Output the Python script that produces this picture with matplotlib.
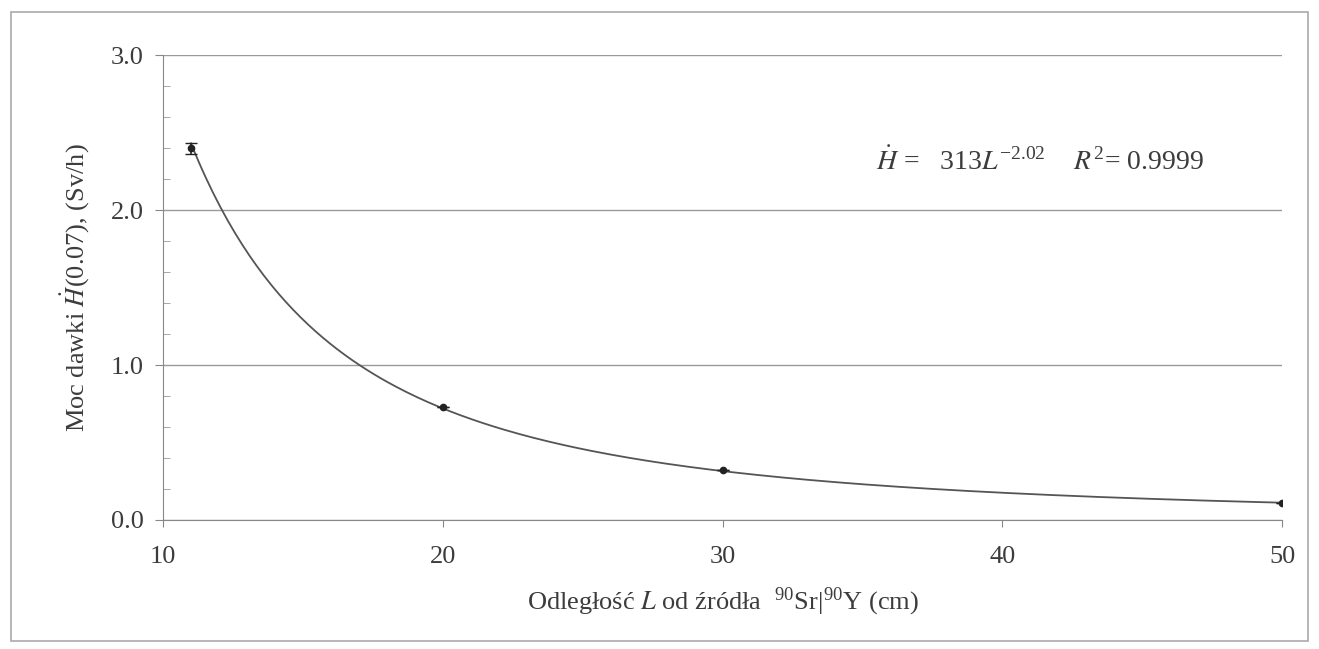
import matplotlib
matplotlib.use("Agg")
import matplotlib.pyplot as plt
import numpy as np
from matplotlib.ticker import MultipleLocator
from matplotlib.patches import Rectangle

# Data
distance_cm = np.array([11, 20, 30, 50])
dose_rate = np.array([2.40, 0.73, 0.32, 0.11])
dose_err = np.array([0.035, 0.0, 0.0, 0.0])
x_ticks = [10, 20, 30, 40, 50]
y_ticks = [0.0, 1.0, 2.0, 3.0]
equation_text = r"$\dot{H}$ =   313$L^{\mathregular{-2.02}}$    $R^{\mathregular{2}}$= 0.9999"

plt.rcParams['font.family'] = ['Liberation Serif', 'DejaVu Serif']
plt.rcParams['mathtext.fontset'] = 'stix'
text_col = '#3c3c3c'

fig = plt.figure(figsize=(13.19, 6.49), dpi=100)
ax = fig.add_axes([0.1236, 0.1988, 0.8484, 0.7162])

# power-law trend line fitted to the measured points
b, log_a = np.polyfit(np.log(distance_cm), np.log(dose_rate), 1)
xs = np.linspace(distance_cm.min(), distance_cm.max(), 300)
ax.plot(xs, np.exp(log_a) * xs ** b, color='#555555', lw=1.3, zorder=3)

ax.errorbar(distance_cm, dose_rate, yerr=dose_err, fmt='o', color='#222222',
            ms=4.5, capsize=4, elinewidth=1.2, zorder=4)

ax.set_xlim(10, 50)
ax.set_ylim(0, 3.0)
ax.set_xticks(x_ticks)
ax.set_yticks(y_ticks)
ax.set_yticklabels([f"{v:.1f}" for v in y_ticks])
ax.yaxis.set_minor_locator(MultipleLocator(0.2))
ax.grid(axis='y', which='major', color='#9a9a9a', lw=1.0)
ax.set_axisbelow(True)
for s in ['top', 'right']:
    ax.spines[s].set_visible(False)
for s in ['left', 'bottom']:
    ax.spines[s].set_color('#888888')
ax.tick_params(axis='y', which='major', direction='out', length=6, color='#888888',
               labelsize=19, labelcolor=text_col, pad=8)
ax.tick_params(axis='y', which='minor', direction='in', length=5, color='#999999')
ax.tick_params(axis='x', direction='out', length=5, color='#888888',
               labelsize=19, labelcolor=text_col, pad=14)

ax.set_ylabel(r"Moc dawki $\dot{H}$(0.07), (Sv/h)", fontsize=19, color=text_col, labelpad=14)
ax.set_xlabel(r"Odległość $L$ od źródła  $^{\mathregular{90}}$Sr|$^{\mathregular{90}}$Y (cm)",
              fontsize=19, color=text_col, labelpad=12)

ax.text(0.637, 0.77, equation_text, transform=ax.transAxes, fontsize=20,
        color=text_col, ha='left', va='center')

fig.patches.append(Rectangle((0.008, 0.012), 0.984, 0.97, transform=fig.transFigure,
                             fill=False, edgecolor='#aaaaaa', lw=1.2))

fig.savefig('out.png', dpi=100)
